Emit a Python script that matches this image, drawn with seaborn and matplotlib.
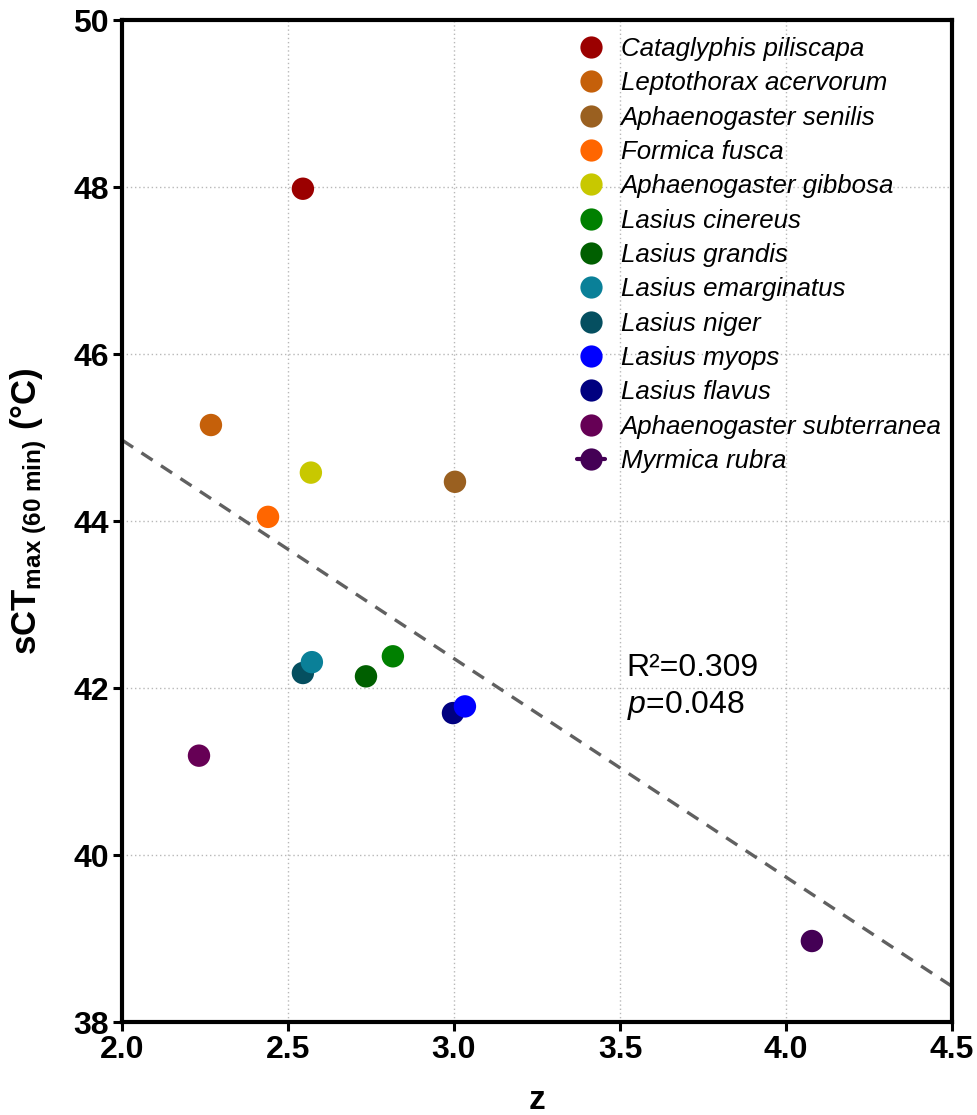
import numpy as np
import pandas as pd
import seaborn as sns
import matplotlib.pyplot as plt
from matplotlib.lines import Line2D

species = ["Cataglyphis piliscapa", "Leptothorax acervorum", "Aphaenogaster senilis",
           "Formica fusca", "Aphaenogaster gibbosa", "Lasius cinereus", "Lasius grandis",
           "Lasius emarginatus", "Lasius niger", "Lasius myops", "Lasius flavus",
           "Aphaenogaster subterranea", "Myrmica rubra"]
z = [2.545, 2.268, 3.003, 2.440, 2.569, 2.816, 2.735, 2.572, 2.545, 3.033, 2.997, 2.232, 4.078]
sct = [47.98, 45.15, 44.47, 44.05, 44.58, 42.38, 42.14, 42.31, 42.18, 41.78, 41.70, 41.19, 38.97]
colors = ["#9b0000", "#c5600a", "#9a6020", "#ff6600", "#c8c800", "#008000", "#005f00",
          "#0a8098", "#054f60", "#0000ff", "#000080", "#660055", "#440055"]

x_ticks = [2.0, 2.5, 3.0, 3.5, 4.0, 4.5]
y_ticks = [38, 40, 42, 44, 46, 48, 50]

df = pd.DataFrame({"species": species, "z": z, "sct": sct})
pal = dict(zip(species, colors))

sns.set_style("white")
plt.rcParams["font.family"] = ["Liberation Sans", "DejaVu Sans"]
plt.rcParams["text.color"] = "black"
plt.rcParams["axes.labelcolor"] = "black"
plt.rcParams["xtick.color"] = "black"
plt.rcParams["ytick.color"] = "black"
plt.rcParams["mathtext.fontset"] = "custom"
plt.rcParams["mathtext.rm"] = "Liberation Sans:bold"
plt.rcParams["mathtext.it"] = "Liberation Sans:italic"
plt.rcParams["mathtext.bf"] = "Liberation Sans:bold"

fig = plt.figure(figsize=(9.78, 11.15), dpi=100)
ax = fig.add_axes([0.1247, 0.0834, 0.8487, 0.8986])
ax.set_xlim(2.0, 4.5)
ax.set_ylim(38, 50)

ax.grid(True, linestyle=(0, (1, 2)), color="#b8b8b8", linewidth=1.0, zorder=0)
ax.set_axisbelow(True)

# regression over the full axis range
sns.regplot(data=df, x="z", y="sct", scatter=False, ci=None, truncate=False, ax=ax,
            line_kws={"color": "#606060", "linewidth": 2.4, "linestyle": (0, (4, 3)), "zorder": 2})

# reversed so that upper legend entries are drawn on top
sns.scatterplot(data=df.iloc[::-1], x="z", y="sct", hue="species", palette=pal, s=260,
                linewidth=0, legend=False, ax=ax, zorder=3)

ax.set_xlim(2.0, 4.5)
ax.set_ylim(38, 50)
ax.set_xticks(x_ticks)
ax.set_yticks(y_ticks)
ax.set_xticklabels([f"{t:.1f}" for t in x_ticks])
ax.set_yticklabels([str(t) for t in y_ticks])
ax.tick_params(axis="both", bottom=True, left=True, direction="out", length=6.5,
               width=2.2, labelsize=23, pad=3, colors="black")
for lab in ax.get_xticklabels() + ax.get_yticklabels():
    lab.set_fontweight("bold")
for sp in ax.spines.values():
    sp.set_linewidth(3)
    sp.set_color("black")

ax.set_xlabel("z", fontsize=24, fontweight="bold", labelpad=14)
ax.set_ylabel(r"sCT$_{\rm max\ (60\ min)}$ (°C)", fontsize=25, fontweight="bold")
ax.yaxis.set_label_coords(-0.088, 0.51)

ax.text(3.52, 42.24, "R²=0.309", fontsize=23, ha="left", va="center")
ax.text(3.52, 41.79, r"$\it{p}$=0.048", fontsize=23, ha="left", va="center")

handles = []
for name, col in zip(species, colors):
    if name == "Myrmica rubra":
        h = Line2D([], [], color=col, marker="o", markersize=16, linewidth=3, markeredgewidth=0)
    else:
        h = Line2D([], [], color=col, marker="o", markersize=16, linestyle="none", markeredgewidth=0)
    handles.append(h)
leg = ax.legend(handles, species, loc="upper left", bbox_to_anchor=(0.548, 0.983),
                frameon=False, fontsize=18.6, handlelength=1.1, handletextpad=0.6,
                labelspacing=0.40, borderpad=0, borderaxespad=0)
for t in leg.get_texts():
    t.set_fontstyle("italic")
    t.set_color("black")

fig.savefig("out.png", dpi=100)
